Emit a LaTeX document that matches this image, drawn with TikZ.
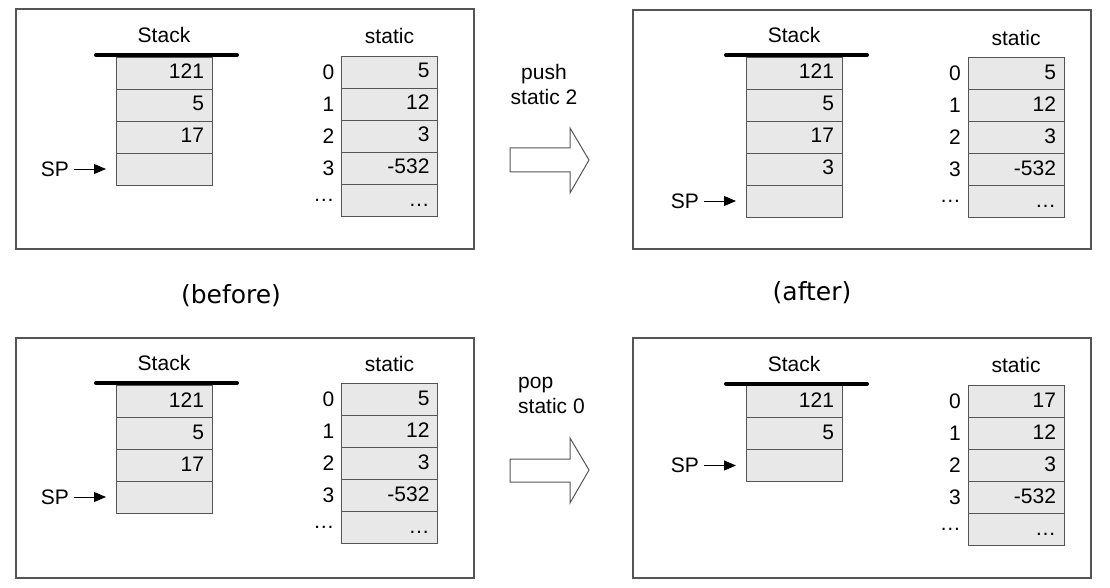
\documentclass[tikz,border=0pt]{standalone}
\usepackage{fontspec}
\setmainfont{Liberation Sans}
\newfontfamily\notefont{DejaVu Sans}
\usepackage{xcolor}
\usepackage{tikz}
\usetikzlibrary{positioning,arrows.meta}

\definecolor{cellgray}{RGB}{232,232,232}
\definecolor{linegray}{RGB}{85,85,85}

\begin{document}
\begin{tikzpicture}[x=1pt, y=-1pt, font=\fontsize{21}{25}\selectfont,
		cell/.style={draw=linegray, fill=cellgray, line width=0.9pt, outer sep=0pt, minimum width=96pt, minimum height=32pt, text width=80pt, inner xsep=8pt, inner ysep=0pt, align=right, text height=15pt, text depth=3pt},
		idx/.style={inner sep=0pt},
		frame/.style={draw=linegray, line width=1.2pt},
		bar/.style={line width=4pt, line cap=round},
		ptr/.style={-{Triangle[length=12pt,width=10pt]}, line width=0.9pt, shorten <=5pt, shorten >=10pt},
		blockarrow/.style={draw=linegray, line width=1pt, fill=white},
		note/.style={font=\notefont\fontsize{25}{28}\selectfont}]
		\useasboundingbox (0,0) rectangle (1110,588);
		% panel frames
		\draw[frame] (16,9) rectangle (474,249);
		\draw[frame] (633,10) rectangle (1091,249);
		\draw[frame] (16,338) rectangle (474,578);
		\draw[frame] (633,338) rectangle (1091,578);

		% push static 2 : before
		\node[cell] (stkA1) at (164,73) {121};
		\node[cell, below=0pt of stkA1] (stkA2) {5};
		\node[cell, below=0pt of stkA2] (stkA3) {17};
		\node[cell, below=0pt of stkA3] (stkA4) {};
		\node[idx, above=14pt of stkA1] {Stack};
		\draw[bar] ([xshift=-20pt,yshift=2pt]stkA1.north west) -- ([xshift=25pt,yshift=2pt]stkA1.north east);
		\node[idx, left=47pt of stkA4] (spA) {SP};
		\draw[ptr] (spA) -- (stkA4);
		\node[cell] (statA0) at (389.5,72) {5};
		\node[cell, below=0pt of statA0] (statA1) {12};
		\node[cell, below=0pt of statA1] (statA2) {3};
		\node[cell, below=0pt of statA2] (statA3) {-532};
		\node[cell, below=0pt of statA3] (statA4) {\ldots};
		\node[idx, above=12pt of statA0] {static};
		\node[idx, left=7pt of statA0] {0};
		\node[idx, left=7pt of statA1] {1};
		\node[idx, left=7pt of statA2] {2};
		\node[idx, left=7pt of statA3] {3};
		\node[idx, left=7pt of statA4] {\ldots};

		% push static 2 : after
		\node[cell] (stkB1) at (794,73) {121};
		\node[cell, below=0pt of stkB1] (stkB2) {5};
		\node[cell, below=0pt of stkB2] (stkB3) {17};
		\node[cell, below=0pt of stkB3] (stkB4) {3};
		\node[cell, below=0pt of stkB4] (stkB5) {};
		\node[idx, above=14pt of stkB1] {Stack};
		\draw[bar] ([xshift=-20pt,yshift=2pt]stkB1.north west) -- ([xshift=25pt,yshift=2pt]stkB1.north east);
		\node[idx, left=47pt of stkB5] (spB) {SP};
		\draw[ptr] (spB) -- (stkB5);
		\node[cell] (statB0) at (1016,73.5) {5};
		\node[cell, below=0pt of statB0] (statB1) {12};
		\node[cell, below=0pt of statB1] (statB2) {3};
		\node[cell, below=0pt of statB2] (statB3) {-532};
		\node[cell, below=0pt of statB3] (statB4) {\ldots};
		\node[idx, above=12pt of statB0] {static};
		\node[idx, left=7pt of statB0] {0};
		\node[idx, left=7pt of statB1] {1};
		\node[idx, left=7pt of statB2] {2};
		\node[idx, left=7pt of statB3] {3};
		\node[idx, left=7pt of statB4] {\ldots};

		% pop static 0 : before
		\node[cell] (stkC1) at (164,401) {121};
		\node[cell, below=0pt of stkC1] (stkC2) {5};
		\node[cell, below=0pt of stkC2] (stkC3) {17};
		\node[cell, below=0pt of stkC3] (stkC4) {};
		\node[idx, above=14pt of stkC1] {Stack};
		\draw[bar] ([xshift=-20pt,yshift=2pt]stkC1.north west) -- ([xshift=25pt,yshift=2pt]stkC1.north east);
		\node[idx, left=47pt of stkC4] (spC) {SP};
		\draw[ptr] (spC) -- (stkC4);
		\node[cell] (statC0) at (389.5,399.5) {5};
		\node[cell, below=0pt of statC0] (statC1) {12};
		\node[cell, below=0pt of statC1] (statC2) {3};
		\node[cell, below=0pt of statC2] (statC3) {-532};
		\node[cell, below=0pt of statC3] (statC4) {\ldots};
		\node[idx, above=12pt of statC0] {static};
		\node[idx, left=7pt of statC0] {0};
		\node[idx, left=7pt of statC1] {1};
		\node[idx, left=7pt of statC2] {2};
		\node[idx, left=7pt of statC3] {3};
		\node[idx, left=7pt of statC4] {\ldots};

		% pop static 0 : after
		\node[cell] (stkD1) at (794,401.5) {121};
		\node[cell, below=0pt of stkD1] (stkD2) {5};
		\node[cell, below=0pt of stkD2] (stkD3) {};
		\node[idx, above=14pt of stkD1] {Stack};
		\draw[bar] ([xshift=-20pt,yshift=2pt]stkD1.north west) -- ([xshift=25pt,yshift=2pt]stkD1.north east);
		\node[idx, left=47pt of stkD3] (spD) {SP};
		\draw[ptr] (spD) -- (stkD3);
		\node[cell] (statD0) at (1016,401) {17};
		\node[cell, below=0pt of statD0] (statD1) {12};
		\node[cell, below=0pt of statD1] (statD2) {3};
		\node[cell, below=0pt of statD2] (statD3) {-532};
		\node[cell, below=0pt of statD3] (statD4) {\ldots};
		\node[idx, above=12pt of statD0] {static};
		\node[idx, left=7pt of statD0] {0};
		\node[idx, left=7pt of statD1] {1};
		\node[idx, left=7pt of statD2] {2};
		\node[idx, left=7pt of statD3] {3};
		\node[idx, left=7pt of statD4] {\ldots};

		% commands and big arrows
		\node[idx, align=center] (pushtxt) at (544,84.5) {push\\static 2};
		\draw[blockarrow] (510,148) -- (570,148) -- (570,128) -- (589,160) -- (570,193) -- (570,172) -- (510,172) -- cycle;
		\node[idx, align=left, anchor=west] (poptxt) at (518,395) {pop\\static 0};
		\draw[blockarrow] (510,459) -- (570,459) -- (570,438) -- (589,470) -- (570,503) -- (570,482) -- (510,482) -- cycle;

		\node[note] (before) at (231,296) {(before)};
		\node[note] (after) at (812,293) {(after)};
	\end{tikzpicture}
\end{document}
